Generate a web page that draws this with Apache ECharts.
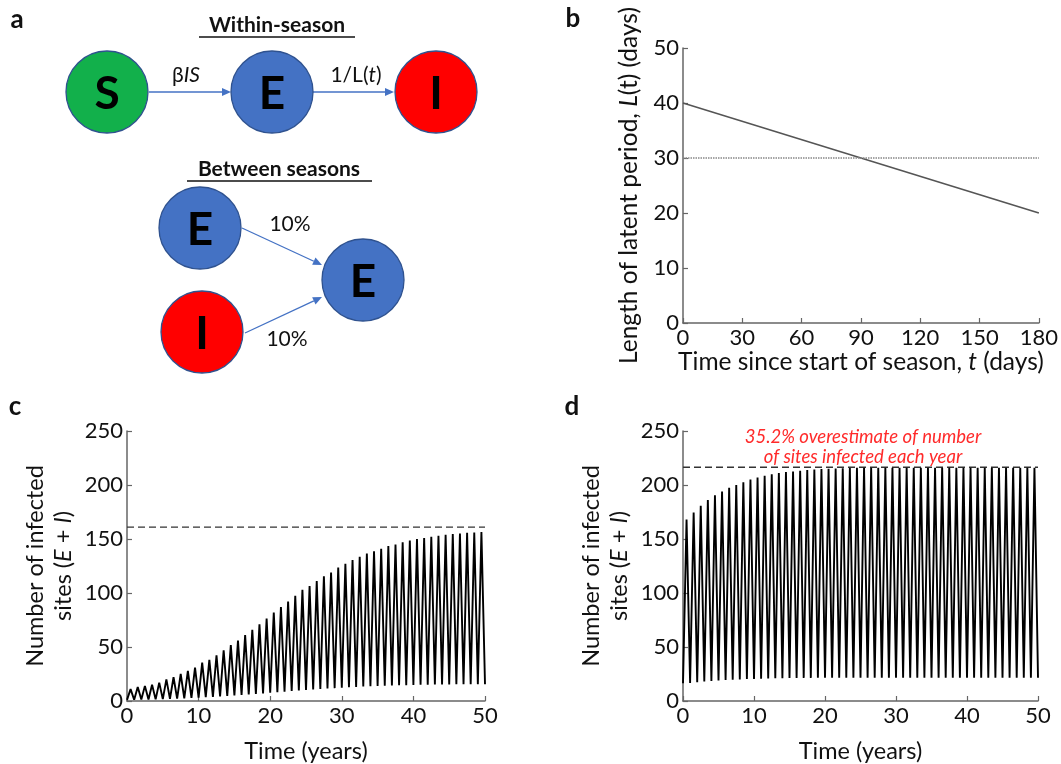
<!DOCTYPE html>
<html>
<head>
<meta charset="utf-8">
<script src="https://cdn.jsdelivr.net/npm/echarts@6/dist/echarts.min.js"></script>
<style>
html,body{margin:0;padding:0;background:#fff;}
#chart{width:1061px;height:764px;}
</style>
</head>
<body>
<div id="chart"></div>
<script>
// ---- Panel b data ----
const bDays = [0, 180];
const bLatent = [40, 20];
const bConstLatent = 30;

// ---- Panel c data (per year, peak within season and value at start of each year) ----
const cPeaks = [11,13,14,15,17,20,22,25,28,31,35.5,38,42.4,47,51.7,56,61,66,71,76.4,82,87,92,97.5,103,106.5,111,115.5,119,123.6,127,130.5,133.6,136.6,138.7,141,143.5,145,147,148.6,150,151,152,153,154,154.6,155,155.8,156,156.5];
const cTroughs = [1,1.1,1.3,1.4,1.5,1.7,2,2.2,2.5,2.8,3.1,3.5,3.8,4.2,4.7,5.2,5.6,6.1,6.6,7.1,7.6,8.2,8.7,9.2,9.7,10.3,10.6,11.1,11.5,11.9,12.4,12.7,13,13.4,13.7,13.9,14.1,14.3,14.5,14.7,14.9,15,15.1,15.2,15.3,15.4,15.5,15.5,15.6,15.6,15.6];
const cRef = 161;

// ---- Panel d data ----
const dPeaks = [168,174.5,180.8,186,190.5,194,197.5,200,202.6,205,207,208.5,210,211,212,212.6,213.2,213.8,214.3,214.7,215,215.3,215.5,215.7,215.9,216,216,216,216,216,216,216,216,216,216,216,216,216,216,216,216,216,216,216,216,216,216,216,216,216];
const dTroughs = [16.5,16.8,17.4,18.1,18.6,19,19.4,19.7,20,20.3,20.5,20.7,20.9,21,21.1,21.2,21.3,21.4,21.4,21.5,21.5,21.6,21.6,21.6,21.6,21.6,21.6,21.6,21.6,21.6,21.6,21.6,21.6,21.6,21.6,21.6,21.6,21.6,21.6,21.6,21.6,21.6,21.6,21.6,21.6,21.6,21.6,21.6,21.6,21.6,21.6];
const dRef = 216.5;

// tick labels
const bXTicks = [0,30,60,90,120,150,180];
const bYTicks = [0,10,20,30,40,50];
const yearTicks = [0,10,20,30,40,50];
const sitesTicks = [0,50,100,150,200,250];

const FONT = 'Lato';

function sawtooth(peaks, troughs) {
  const out = [];
  for (let k = 0; k < peaks.length; k++) {
    out.push([k, troughs[k]]);
    out.push([k + 0.5, peaks[k]]);
  }
  out.push([peaks.length, troughs[peaks.length]]);
  return out;
}

const axisLineStyle = {color: '#666', width: 1.5};
function valueAxis(extra) {
  return Object.assign({
    type: 'value',
    axisLine: {show: true, onZero: false, lineStyle: axisLineStyle},
    axisTick: {show: true, inside: true, length: 5, lineStyle: {color: '#666', width: 1.2}},
    axisLabel: {fontFamily: FONT, fontSize: 22, color: '#111', margin: 4},
    splitLine: {show: false},
    nameTextStyle: {fontFamily: FONT, fontSize: 23.5, color: '#111'}
  }, extra);
}

function richName(size) {
  return {
    n: {fontFamily: FONT, fontSize: size, color: '#111'},
    i: {fontFamily: FONT, fontSize: size, color: '#111', fontStyle: 'italic'}
  };
}

// ---- panel a diagram helpers ----
const BLUE = '#4472C4', GREEN = '#12B04B', RED = '#FF0000', EDGE = '#2F528F';
function circle(cx, cy, fill, letter) {
  return [
    {type: 'circle', shape: {cx: cx, cy: cy, r: 41}, style: {fill: fill, stroke: EDGE, lineWidth: 1.3}},
    {type: 'text', style: {text: letter, x: cx, y: cy + 2, textAlign: 'center', textVerticalAlign: 'middle', align: 'center', verticalAlign: 'middle', font: 'bold 46px ' + FONT, fill: '#000'}}
  ];
}
function arrow(x1, y1, x2, y2) {
  const a = Math.atan2(y2 - y1, x2 - x1), L = 9, W = 4;
  const bx = x2 - L * Math.cos(a), by = y2 - L * Math.sin(a);
  return [
    {type: 'line', shape: {x1: x1, y1: y1, x2: bx, y2: by}, style: {stroke: BLUE, lineWidth: 1.3}},
    {type: 'polygon', shape: {points: [[x2, y2], [bx - W * Math.sin(a), by + W * Math.cos(a)], [bx + W * Math.sin(a), by - W * Math.cos(a)]]}, style: {fill: BLUE}}
  ];
}
function label(text, x, y, size, weight, extra) {
  return {type: 'text', style: Object.assign({text: text, x: x, y: y, textAlign: 'center', textVerticalAlign: 'middle', align: 'center', verticalAlign: 'middle', font: (weight || 'normal') + ' ' + size + 'px ' + FONT, fill: '#111'}, extra || {})};
}
const diagRich = {n: {fontSize: 21, fontFamily: FONT, fill: '#111'}, i: {fontStyle: 'italic', fontSize: 21, fontFamily: FONT, fill: '#111'}};

const graphics = [].concat(
  label('a', 17, 20, 26, 'bold'),
  label('b', 573, 19, 26, 'bold'),
  label('c', 15, 407, 26, 'bold'),
  label('d', 572, 407, 26, 'bold'),
  label('Within-season', 277, 25, 21, 'bold'),
  {type: 'line', shape: {x1: 199, y1: 37, x2: 355, y2: 37}, style: {stroke: '#111', lineWidth: 1.3}},
  label('Between seasons', 279, 169, 21, 'bold'),
  {type: 'line', shape: {x1: 187, y1: 181, x2: 372, y2: 181}, style: {stroke: '#111', lineWidth: 1.3}},
  arrow(149, 92, 231, 92),
  arrow(313, 92, 394, 92),
  arrow(242, 228, 322, 265),
  arrow(245, 333, 322, 297),
  circle(107, 92, GREEN, 'S'),
  circle(272, 92, BLUE, 'E'),
  circle(436, 92, RED, 'I'),
  circle(200, 228, BLUE, 'E'),
  circle(202, 332, RED, 'I'),
  circle(363, 280, BLUE, 'E'),
  {type: 'text', style: {text: '{n|β}{i|IS}', x: 186, y: 75, textAlign: 'center', textVerticalAlign: 'middle', align: 'center', verticalAlign: 'middle', font: '21px ' + FONT, fill: '#111', rich: diagRich}},
  {type: 'text', style: {text: '{n|1/L(}{i|t}{n|)}', x: 356, y: 75, textAlign: 'center', textVerticalAlign: 'middle', align: 'center', verticalAlign: 'middle', font: '21px ' + FONT, fill: '#111', rich: diagRich}},
  label('10%', 290, 224, 21),
  label('10%', 287, 339, 21),
  label('35.2% overestimate of number', 863, 437, 18.5, 'italic', {fill: '#FF2A2A'}),
  label('of sites infected each year', 863, 457, 18.5, 'italic', {fill: '#FF2A2A'})
);

const sitesName = '{n|Number of infected}\n{n|sites (}{i|E}{n| + }{i|I}{n|)}';

const chart = echarts.init(document.getElementById('chart'), null, {renderer: 'canvas'});
chart.setOption({
  backgroundColor: '#fff',
  animation: false,
  grid: [
    {left: 683, top: 48, width: 356, height: 275},
    {left: 127, top: 431, width: 358, height: 276},
    {left: 683, top: 431, width: 355, height: 276}
  ],
  xAxis: [
    valueAxis({gridIndex: 0, min: bXTicks[0], max: bXTicks[bXTicks.length - 1], interval: 30,
      name: '{n|Time since start of season, }{i|t}{n| (days)}', nameLocation: 'middle', nameGap: 27,
      nameTextStyle: {rich: richName(24.5)}}),
    valueAxis({gridIndex: 1, min: yearTicks[0], max: yearTicks[yearTicks.length - 1], interval: 10,
      name: 'Time (years)', nameLocation: 'middle', nameGap: 38}),
    valueAxis({gridIndex: 2, min: yearTicks[0], max: yearTicks[yearTicks.length - 1], interval: 10,
      name: 'Time (years)', nameLocation: 'middle', nameGap: 38})
  ],
  yAxis: [
    valueAxis({gridIndex: 0, min: bYTicks[0], max: bYTicks[bYTicks.length - 1], interval: 10,
      name: '{n|Length of latent period, }{i|L}{n|(t) (days)}', nameLocation: 'middle', nameGap: 41,
      nameTextStyle: {rich: richName(24.5)}}),
    valueAxis({gridIndex: 1, min: sitesTicks[0], max: sitesTicks[sitesTicks.length - 1], interval: 50,
      name: sitesName, nameLocation: 'middle', nameGap: 50,
      nameTextStyle: {rich: richName(23.5), lineHeight: 28}}),
    valueAxis({gridIndex: 2, min: sitesTicks[0], max: sitesTicks[sitesTicks.length - 1], interval: 50,
      name: sitesName, nameLocation: 'middle', nameGap: 50,
      nameTextStyle: {rich: richName(23.5), lineHeight: 28}})
  ],
  series: [
    {type: 'line', xAxisIndex: 0, yAxisIndex: 0, data: bDays.map((d, i) => [d, bLatent[i]]),
      symbol: 'none', lineStyle: {color: '#555', width: 1.6}},
    {type: 'line', xAxisIndex: 0, yAxisIndex: 0, data: bDays.map(d => [d, bConstLatent]),
      symbol: 'none', lineStyle: {color: '#888', width: 1.6, type: [1.5, 1]}},
    {type: 'line', xAxisIndex: 1, yAxisIndex: 1, data: [[yearTicks[0], cRef], [yearTicks[yearTicks.length - 1], cRef]],
      symbol: 'none', lineStyle: {color: '#333', width: 1.4, type: [7, 4]}},
    {type: 'line', xAxisIndex: 1, yAxisIndex: 1, data: sawtooth(cPeaks, cTroughs),
      symbol: 'none', lineStyle: {color: '#000', width: 1.9}},
    {type: 'line', xAxisIndex: 2, yAxisIndex: 2, data: [[yearTicks[0], dRef], [yearTicks[yearTicks.length - 1], dRef]],
      symbol: 'none', lineStyle: {color: '#333', width: 1.4, type: [7, 4]}},
    {type: 'line', xAxisIndex: 2, yAxisIndex: 2, data: sawtooth(dPeaks, dTroughs),
      symbol: 'none', lineStyle: {color: '#000', width: 1.9}}
  ],
  graphic: {elements: graphics}
});
</script>
</body>
</html>
